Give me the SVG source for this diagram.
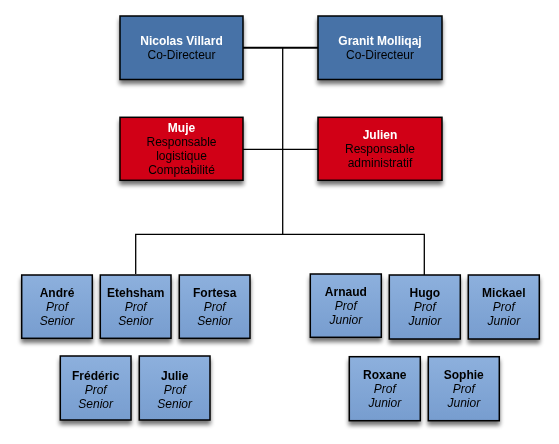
<svg xmlns="http://www.w3.org/2000/svg" width="559" height="444" viewBox="0 0 559 444">
<defs>
<filter id="sh" x="-20%" y="-20%" width="150%" height="150%">
<feGaussianBlur in="SourceAlpha" stdDeviation="2.2"/>
<feOffset dx="0" dy="3.5" result="b"/>
<feComponentTransfer><feFuncA type="linear" slope="0.55"/></feComponentTransfer>
<feMerge><feMergeNode/><feMergeNode in="SourceGraphic"/></feMerge>
</filter>
<linearGradient id="lb" x1="0" y1="0" x2="0" y2="1">
<stop offset="0" stop-color="#8db0dd"/>
<stop offset="1" stop-color="#779dcf"/>
</linearGradient>
</defs>
<style>
text{font-family:"Liberation Sans",Arial,sans-serif;font-size:12px;text-anchor:middle}
.b{font-weight:bold}
.i{font-style:italic}
.w{fill:#fff}
.dir rect{fill:#4672a7;stroke:#000;stroke-width:1.5}
.resp rect{fill:#d10016;stroke:#000;stroke-width:1.5}
.prof rect{fill:url(#lb);stroke:#000;stroke-width:1.5}
.c{fill:none;stroke:#000;stroke-width:1.3}
</style>
<rect width="559" height="444" fill="#fff"/>
<g id="connectors">
<line class="c" x1="243" y1="47.7" x2="318" y2="47.7" style="stroke-width:2"/>
<line class="c" x1="282.7" y1="47.7" x2="282.7" y2="234.3"/>
<line class="c" x1="243" y1="149.3" x2="318" y2="149.3"/>
<polyline class="c" points="135.7,274 135.7,234.3 424.3,234.3 424.3,275"/>
</g>
<g id="nicolas" class="dir" filter="url(#sh)">
<rect x="120" y="16" width="123" height="63.5"/>
<text x="181.5" y="45" class="b w">Nicolas Villard</text>
<text x="181.5" y="59">Co-Directeur</text>
</g>
<g id="granit" class="dir" filter="url(#sh)">
<rect x="318" y="16" width="124" height="63.5"/>
<text x="380" y="45" class="b w">Granit Molliqaj</text>
<text x="380" y="59">Co-Directeur</text>
</g>
<g id="muje" class="resp" filter="url(#sh)">
<rect x="120" y="117.3" width="123" height="63"/>
<text x="181.5" y="132" class="b w">Muje</text>
<text x="181.5" y="146">Responsable</text>
<text x="181.5" y="160">logistique</text>
<text x="181.5" y="174">Comptabilité</text>
</g>
<g id="julien" class="resp" filter="url(#sh)">
<rect x="318" y="117.3" width="124" height="63"/>
<text x="380" y="139.3" class="b w">Julien</text>
<text x="380" y="153.3">Responsable</text>
<text x="380" y="167.3">administratif</text>
</g>
<g id="andre" class="prof" filter="url(#sh)">
<rect x="21.7" y="275" width="70.6" height="63.3"/>
<text x="57" y="296.6" class="b">André</text>
<text x="57" y="311" class="i">Prof</text>
<text x="57" y="324.6" class="i">Senior</text>
</g>
<g id="etehsham" class="prof" filter="url(#sh)">
<rect x="100.3" y="275" width="70.7" height="63.3"/>
<text x="135.7" y="296.6" class="b">Etehsham</text>
<text x="135.7" y="311" class="i">Prof</text>
<text x="135.7" y="324.6" class="i">Senior</text>
</g>
<g id="fortesa" class="prof" filter="url(#sh)">
<rect x="179.3" y="275" width="70.7" height="63.3"/>
<text x="214.7" y="296.6" class="b">Fortesa</text>
<text x="214.7" y="311" class="i">Prof</text>
<text x="214.7" y="324.6" class="i">Senior</text>
</g>
<g id="frederic" class="prof" filter="url(#sh)">
<rect x="60.3" y="356" width="70.7" height="64"/>
<text x="95.7" y="379.5" class="b">Frédéric</text>
<text x="95.7" y="393.5" class="i">Prof</text>
<text x="95.7" y="407.5" class="i">Senior</text>
</g>
<g id="julie" class="prof" filter="url(#sh)">
<rect x="139.3" y="356" width="70.7" height="64"/>
<text x="174.7" y="379.5" class="b">Julie</text>
<text x="174.7" y="393.5" class="i">Prof</text>
<text x="174.7" y="407.5" class="i">Senior</text>
</g>
<g id="arnaud" class="prof" filter="url(#sh)">
<rect x="310.3" y="274" width="71" height="63.3"/>
<text x="345.8" y="296" class="b">Arnaud</text>
<text x="345.8" y="310" class="i">Prof</text>
<text x="345.8" y="324" class="i">Junior</text>
</g>
<g id="hugo" class="prof" filter="url(#sh)">
<rect x="389.3" y="275" width="71" height="64"/>
<text x="424.8" y="297" class="b">Hugo</text>
<text x="424.8" y="311" class="i">Prof</text>
<text x="424.8" y="325" class="i">Junior</text>
</g>
<g id="mickael" class="prof" filter="url(#sh)">
<rect x="468.3" y="275" width="71" height="64"/>
<text x="503.8" y="297" class="b">Mickael</text>
<text x="503.8" y="311" class="i">Prof</text>
<text x="503.8" y="325" class="i">Junior</text>
</g>
<g id="roxane" class="prof" filter="url(#sh)">
<rect x="349.3" y="356.7" width="71" height="64"/>
<text x="384.8" y="379" class="b">Roxane</text>
<text x="384.8" y="393" class="i">Prof</text>
<text x="384.8" y="407" class="i">Junior</text>
</g>
<g id="sophie" class="prof" filter="url(#sh)">
<rect x="428.3" y="356.7" width="71" height="64"/>
<text x="463.8" y="379" class="b">Sophie</text>
<text x="463.8" y="393" class="i">Prof</text>
<text x="463.8" y="407" class="i">Junior</text>
</g>
</svg>
